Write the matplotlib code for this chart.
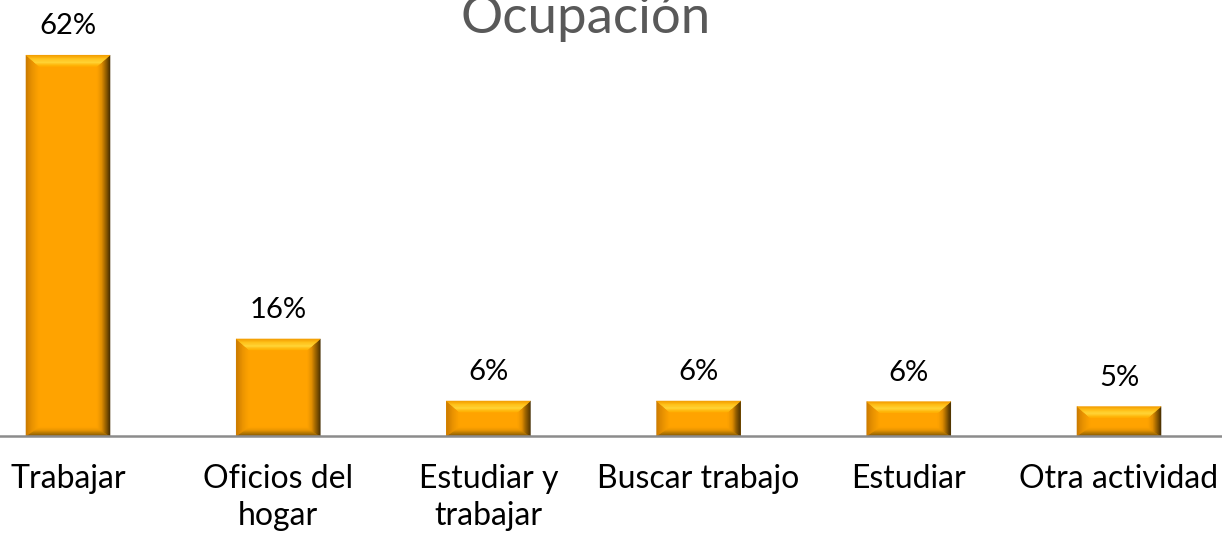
import matplotlib
matplotlib.use('Agg')
import matplotlib.pyplot as plt
from matplotlib.patches import Polygon
from matplotlib.colors import LinearSegmentedColormap
import numpy as np

plt.rcParams['font.family'] = ['Lato', 'DejaVu Sans']

categories = ['Trabajar', 'Oficios del\nhogar', 'Estudiar y\ntrabajar', 'Buscar trabajo', 'Estudiar', 'Otra actividad']
values = [62.0, 15.8, 5.7, 5.7, 5.6, 4.8]
value_labels = ['62%', '16%', '6%', '6%', '6%', '5%']
title = 'Ocupación'

BODY = '#FFA300'
W, H = 1222, 533

fig = plt.figure(figsize=(W / 100, H / 100), dpi=100)
fig.patch.set_facecolor('white')
ax = fig.add_axes([0, 97 / H, 1, 430 / H])
ax.set_xlim(-68 / 210.2, (W - 68) / 210.2)
ax.set_ylim(0, 70)

x = np.arange(len(categories))
bars = ax.bar(x, values, width=0.4, color=BODY, linewidth=0, zorder=2)

# bevel sizes in data units (px / scale)
px_x = 210.2
px_y = 430 / 70
dx = 13 / px_x
dyt = 11 / px_y
dyb = 9 / px_y

cm_top = LinearSegmentedColormap.from_list('t', ['#F29A00', '#FFC21A', '#FFD83A', '#FFB000'])
cm_left = LinearSegmentedColormap.from_list('l', ['#C87800', '#E89200', '#FFA300'])
cm_right = LinearSegmentedColormap.from_list('r', ['#3C2800', '#8A5800', '#E08E00', '#FFA300'])
cm_bot = LinearSegmentedColormap.from_list('b', ['#7A5000', '#B07400', '#E89400', '#FFA300'])


def lerp(p, q, t):
    return (p[0] + (q[0] - p[0]) * t, p[1] + (q[1] - p[1]) * t)


def bevel(o1, o2, i2, i1, cmap, n=14):
    for j in range(n):
        t0, t1 = j / n, (j + 1) / n
        pts = [lerp(o1, i1, t0), lerp(o2, i2, t0), lerp(o2, i2, t1), lerp(o1, i1, t1)]
        ax.add_patch(Polygon(pts, closed=True, fc=cmap((t0 + t1) / 2), ec=cmap((t0 + t1) / 2),
                             lw=0.3, zorder=3))


for b in bars:
    x0, y0 = b.get_x(), b.get_y()
    x1, y1 = x0 + b.get_width(), y0 + b.get_height()
    oBL, oBR, oTR, oTL = (x0, y0), (x1, y0), (x1, y1), (x0, y1)
    iBL, iBR = (x0 + dx, y0 + dyb), (x1 - dx, y0 + dyb)
    iTR, iTL = (x1 - dx, y1 - dyt), (x0 + dx, y1 - dyt)
    bevel(oBL, oBR, iBR, iBL, cm_bot)
    bevel(oTL, oBL, iBL, iTL, cm_left)
    bevel(oBR, oTR, iTR, iBR, cm_right)
    bevel(oTL, oTR, iTR, iTL, cm_top)

for xi, v, lab in zip(x, values, value_labels):
    ax.annotate(lab, (xi, v), xytext=(0, 15), textcoords='offset points',
                ha='center', va='baseline', fontsize=21, color='black')

for s in ['top', 'right', 'left']:
    ax.spines[s].set_visible(False)
ax.spines['bottom'].set_color('#8C8C8C')
ax.spines['bottom'].set_linewidth(1.8)
ax.spines['bottom'].set_zorder(4)
ax.set_yticks([])
ax.set_xticks(x)
ax.set_xticklabels(categories, fontsize=23, color='black', linespacing=1.27)
ax.tick_params(axis='x', length=0, pad=20.5)

fig.text(586 / W, (H - 33) / H, title, ha='center', va='baseline', fontsize=38, color='#595959')

fig.savefig('out.png', dpi=100, facecolor='white')
